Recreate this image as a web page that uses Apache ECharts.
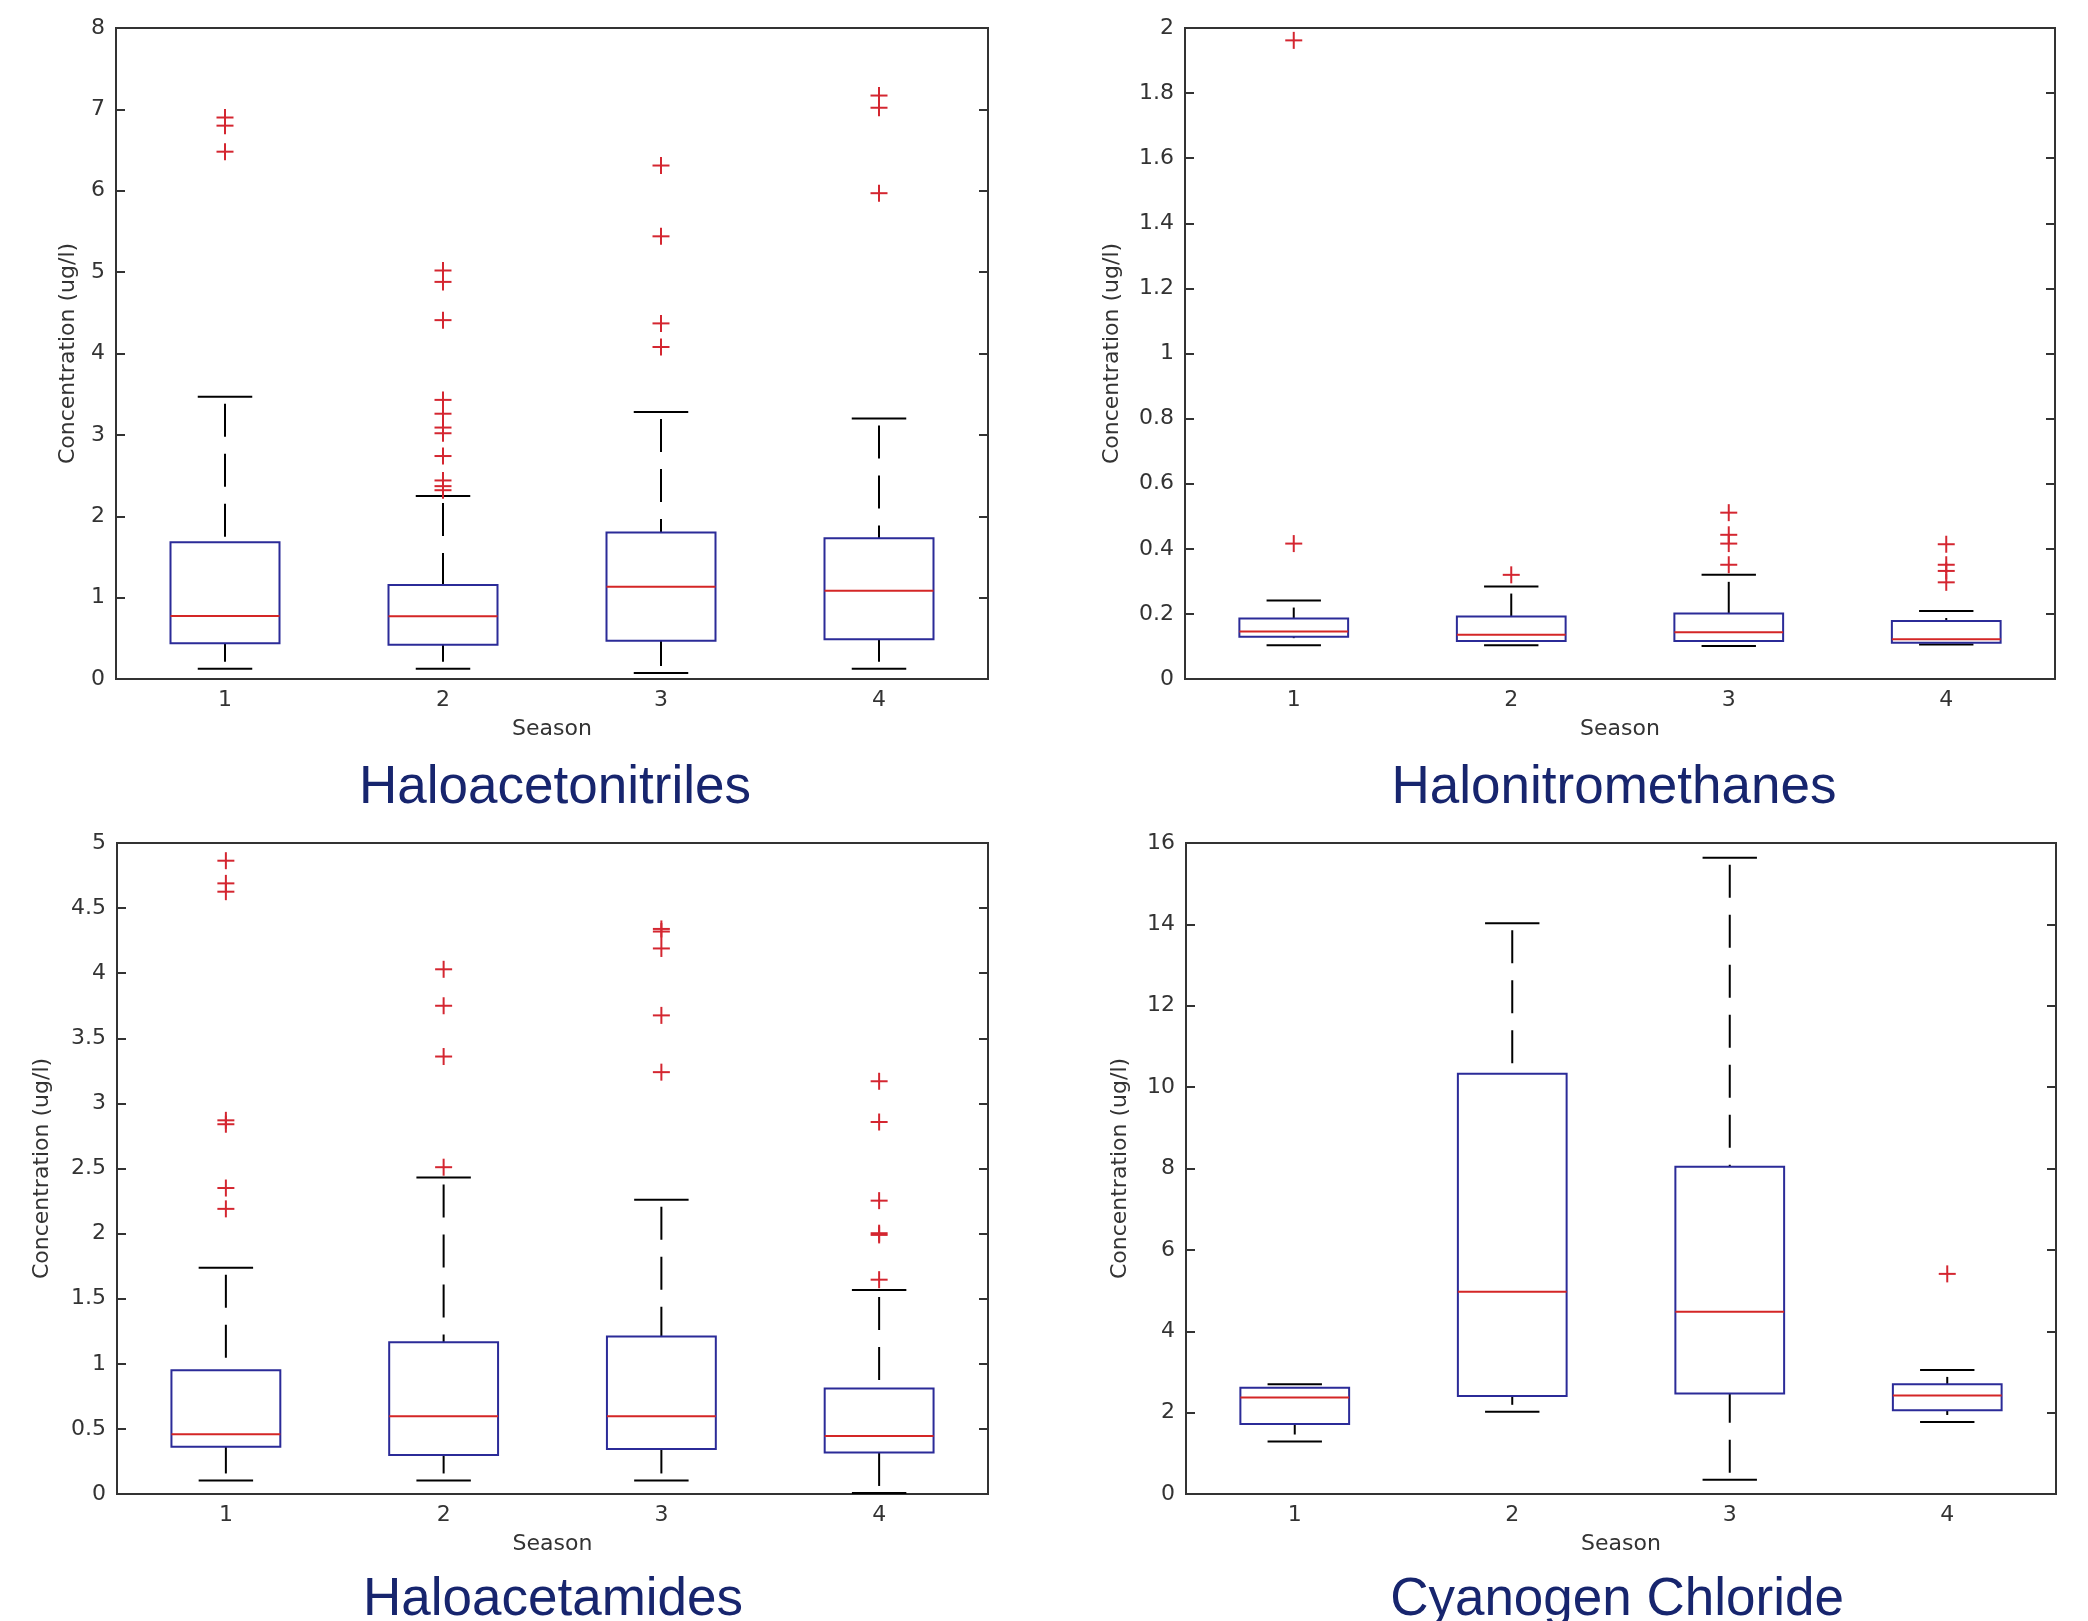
<!DOCTYPE html>
<html>
<head>
<meta charset="utf-8">
<script src="https://cdn.jsdelivr.net/npm/echarts@6/dist/echarts.min.js"></script>
<style>
html,body{margin:0;padding:0;background:#fff;}
#c{width:2088px;height:1621px;}
</style>
</head>
<body>
<div id="c"></div>
<script>
// ---------- data ----------
const seasons = ['1', '2', '3', '4'];
const titles = ['Haloacetonitriles', 'Halonitromethanes', 'Haloacetamides', 'Cyanogen Chloride'];

// [lower whisker, Q1, median, Q3, upper whisker] per season
const hanStats = [
  [0.127, 0.44, 0.774, 1.68, 3.47],
  [0.127, 0.42, 0.77, 1.155, 2.25],
  [0.075, 0.47, 1.135, 1.80, 3.28],
  [0.127, 0.49, 1.085, 1.73, 3.20]
];
const hanOutliers = [
  [6.90, 6.80, 6.48],
  [5.02, 4.88, 4.41, 3.43, 3.26, 3.09, 3.02, 2.74, 2.44, 2.37, 2.32],
  [6.31, 5.44, 4.37, 4.08],
  [7.17, 7.02, 5.97]
];

const hnmStats = [
  [0.104, 0.130, 0.146, 0.186, 0.241],
  [0.104, 0.117, 0.136, 0.192, 0.284],
  [0.101, 0.117, 0.144, 0.2015, 0.320],
  [0.106, 0.111, 0.122, 0.178, 0.209]
];
const hnmOutliers = [
  [1.962, 0.416],
  [0.320],
  [0.511, 0.443, 0.416, 0.351],
  [0.414, 0.351, 0.332, 0.297]
];

const hamStats = [
  [0.104, 0.363, 0.458, 0.95, 1.737],
  [0.104, 0.30, 0.597, 1.165, 2.43],
  [0.104, 0.346, 0.597, 1.209, 2.26],
  [0.008, 0.319, 0.445, 0.811, 1.567]
];
const hamOutliers = [
  [4.864, 4.69, 4.626, 2.87, 2.84, 2.35, 2.19],
  [4.03, 3.75, 3.36, 2.51],
  [4.34, 4.32, 4.19, 3.676, 3.24],
  [3.17, 2.857, 2.253, 2.003, 1.99, 1.646]
];

const cnclStats = [
  [1.29, 1.72, 2.37, 2.61, 2.70],
  [2.02, 2.41, 4.97, 10.33, 14.03],
  [0.35, 2.47, 4.48, 8.04, 15.64],
  [1.77, 2.06, 2.42, 2.70, 3.05]
];
const cnclOutliers = [
  [],
  [],
  [],
  [5.41]
];

// y-axis ranges [min, max, interval]
const yRanges = [[0, 8, 1], [0, 2, 0.2], [0, 5, 0.5], [0, 16, 2]];

// ---------- layout ----------
const grids = [
  {left: 116, top: 28, width: 872, height: 651},
  {left: 1185, top: 28, width: 870, height: 651},
  {left: 117, top: 843, width: 871, height: 651},
  {left: 1186, top: 843, width: 870, height: 651}
];
const nameGaps = [37, 62, 64, 55];
const titlePos = [[555, 788], [1614, 788], [553, 1600], [1617, 1600]];

const allStats = [hanStats, hnmStats, hamStats, cnclStats];
const allOut = [hanOutliers, hnmOutliers, hamOutliers, cnclOutliers];

const AX = '#333333';
const BOX = '#2b2b98';
const MED = '#d42626';
const OUT = '#d42630';
const FONT = 'DejaVu Sans';

function renderBox(params, api) {
  const x = api.value(0);
  const lo = api.coord([x, api.value(1)]);
  const q1 = api.coord([x, api.value(2)]);
  const md = api.coord([x, api.value(3)]);
  const q3 = api.coord([x, api.value(4)]);
  const hi = api.coord([x, api.value(5)]);
  const band = api.size([1, 0])[0];
  const hw = band * 0.25, cw = band * 0.125;
  const cx = lo[0];
  const dash = {stroke: '#000', lineWidth: 2, lineDash: [33, 17], lineDashOffset: 43, fill: null};
  const solid = {stroke: '#000', lineWidth: 2, fill: null};
  return {
    type: 'group',
    children: [
      {type: 'line', shape: {x1: cx, y1: hi[1], x2: cx, y2: q3[1]}, style: dash},
      {type: 'line', shape: {x1: cx, y1: lo[1], x2: cx, y2: q1[1]}, style: dash},
      {type: 'line', shape: {x1: cx - cw, y1: hi[1], x2: cx + cw, y2: hi[1]}, style: solid},
      {type: 'line', shape: {x1: cx - cw, y1: lo[1], x2: cx + cw, y2: lo[1]}, style: solid},
      {type: 'rect', shape: {x: cx - hw, y: q3[1], width: 2 * hw, height: q1[1] - q3[1]},
        style: {stroke: BOX, lineWidth: 2, fill: null}},
      {type: 'line', shape: {x1: cx - hw, y1: md[1], x2: cx + hw, y2: md[1]},
        style: {stroke: MED, lineWidth: 2, fill: null}}
    ]
  };
}

function renderPlus(params, api) {
  const p = api.coord([api.value(0), api.value(1)]);
  const s = 8.5;
  const st = {stroke: OUT, lineWidth: 2, fill: null};
  return {
    type: 'group',
    children: [
      {type: 'line', shape: {x1: p[0] - s, y1: p[1], x2: p[0] + s, y2: p[1]}, style: st},
      {type: 'line', shape: {x1: p[0], y1: p[1] - s, x2: p[0], y2: p[1] + s}, style: st}
    ]
  };
}

const option = {
  animation: false,
  backgroundColor: '#ffffff',
  grid: grids.map(g => Object.assign({show: true, borderColor: AX, borderWidth: 2,
    backgroundColor: 'transparent', containLabel: false}, g)),
  xAxis: grids.map((g, i) => ({
    type: 'category',
    gridIndex: i,
    data: seasons,
    boundaryGap: true,
    axisLine: {show: false},
    axisTick: {show: false},
    splitLine: {show: false},
    axisLabel: {color: AX, fontFamily: FONT, fontSize: 22, margin: 10},
    name: 'Season',
    nameLocation: 'middle',
    nameGap: 39,
    nameTextStyle: {color: AX, fontFamily: FONT, fontSize: 22}
  })),
  yAxis: [].concat(...grids.map((g, i) => [
    {
      type: 'value',
      gridIndex: i,
      position: 'left',
      min: yRanges[i][0], max: yRanges[i][1], interval: yRanges[i][2],
      axisLine: {show: false},
      axisTick: {show: true, inside: true, length: 9, lineStyle: {color: AX, width: 2}},
      splitLine: {show: false},
      axisLabel: {color: AX, fontFamily: FONT, fontSize: 22, margin: 11},
      name: 'Concentration (ug/l)',
      nameLocation: 'middle',
      nameGap: nameGaps[i],
      nameRotate: 90,
      nameTextStyle: {color: AX, fontFamily: FONT, fontSize: 22}
    },
    {
      type: 'value',
      gridIndex: i,
      position: 'right',
      min: yRanges[i][0], max: yRanges[i][1], interval: yRanges[i][2],
      axisLine: {show: false},
      axisTick: {show: true, inside: true, length: 9, lineStyle: {color: AX, width: 2}},
      splitLine: {show: false},
      axisLabel: {show: false}
    }
  ])),
  series: [].concat(...grids.map((g, i) => [
    {
      type: 'custom',
      xAxisIndex: i,
      yAxisIndex: 2 * i,
      renderItem: renderBox,
      encode: {x: 0, y: [1, 2, 3, 4, 5]},
      data: allStats[i].map((s, k) => [k].concat(s)),
      silent: true
    },
    {
      type: 'custom',
      xAxisIndex: i,
      yAxisIndex: 2 * i,
      renderItem: renderPlus,
      encode: {x: 0, y: 1},
      data: [].concat(...allOut[i].map((arr, k) => arr.map(v => [k, v]))),
      silent: true
    }
  ])),
  graphic: titles.map((t, i) => ({
    type: 'text',
    x: titlePos[i][0],
    y: titlePos[i][1],
    silent: true,
    style: {
      text: t,
      fill: '#17256e',
      font: '53px "Liberation Sans", Arial, sans-serif',
      textAlign: 'center',
      textVerticalAlign: 'middle'
    }
  }))
};

const chart = echarts.init(document.getElementById('c'), null, {renderer: 'canvas'});
chart.setOption(option);
</script>
</body>
</html>
